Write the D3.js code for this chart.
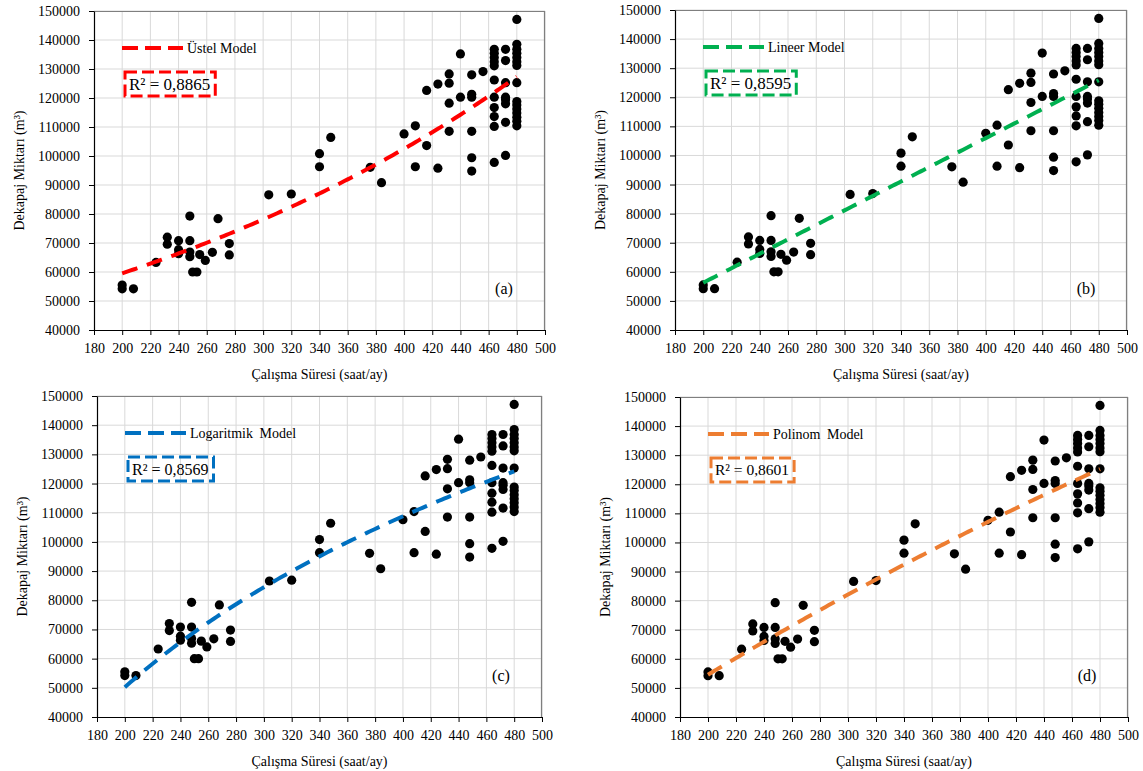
<!DOCTYPE html>
<html>
<head>
<meta charset="utf-8">
<script src="https://cdn.jsdelivr.net/npm/d3@7"></script>
<style>
  body { margin: 0; padding: 0; background: #fff; overflow: hidden; }
  text { font-family: "Liberation Serif", "Times New Roman", serif; fill: #000; }
</style>
</head>
<body>
<script>
// working hours per month (x) and stripped volume (y)
const hours = [
  200, 200, 208, 224, 232, 232, 240, 240, 240, 248, 248, 248, 248, 250, 253, 255, 259, 264, 268, 276, 276,
  304, 320, 340, 340, 348, 376, 384,
  400, 408, 408, 416, 416, 424, 424, 432, 432, 432, 432, 440, 440,
  448, 448, 448, 448, 448, 448, 456,
  464, 464, 464, 464, 464, 464, 464, 464, 464, 464, 464,
  472, 472, 472, 472, 472, 472, 472, 472,
  480, 480, 480, 480, 480, 480, 480, 480, 480, 480, 480, 480, 480, 480, 480
];
const volume = [
  55500, 54200, 54200, 63300, 72000, 69600, 70800, 67700, 66300, 79300, 70800, 66900, 65300, 60000, 60000, 66000, 64000, 66800, 78400, 69800, 65900,
  86600, 86900, 100800, 96300, 106400, 96100, 90800,
  107600, 110400, 96300, 122600, 103600, 124800, 95800, 128300, 125100, 118200, 108500, 135200, 120300,
  128000, 121300, 120300, 108500, 99400, 94800, 129100,
  136800, 135400, 134000, 132500, 131100, 126200, 120300, 116700, 113600, 110200, 97800,
  136800, 132900, 125300, 120300, 119400, 118000, 111600, 100200,
  147100, 138500, 136800, 135400, 134000, 132500, 131200, 125300, 118800, 117600, 116200, 114800, 113400, 112000, 110400
];

const xTicks = [180, 200, 220, 240, 260, 280, 300, 320, 340, 360, 380, 400, 420, 440, 460, 480, 500];
const yTicks = [40000, 50000, 60000, 70000, 80000, 90000, 100000, 110000, 120000, 130000, 140000, 150000];

const modelTypes = ["exp", "linear", "log", "poly"];
const modelNames = ["Üstel Model", "Lineer Model", "Logaritmik Model", "Polinom Model"];
const r2Labels = ["R² = 0,8865", "R² = 0,8595", "R² = 0,8569", "R² = 0,8601"];
const panelLetters = ["(a)", "(b)", "(c)", "(d)"];
const modelColors = ["#ff0000", "#00b050", "#0070c0", "#ed7d31"];

const xTitle = "Çalışma Süresi (saat/ay)";
const yTitle = "Dekapaj Miktarı (m³)";

// plot area placement of each panel
const panels = [
  {left: 94, top: 11, width: 451, height: 319, r2Size: 17},
  {left: 675, top: 10, width: 452, height: 320, r2Size: 17},
  {left: 97, top: 396, width: 445, height: 321, r2Size: 16},
  {left: 680, top: 397, width: 448, height: 320, r2Size: 15.5}
];

const width = 1143, height = 771;

// ---- least squares fits, like the spreadsheet trendlines
function fitLine(xs, ys) {
  const mx = d3.mean(xs), my = d3.mean(ys);
  let sxy = 0, sxx = 0;
  xs.forEach((x, i) => { sxy += (x - mx) * (ys[i] - my); sxx += (x - mx) * (x - mx); });
  const b = sxy / sxx;
  return [my - b * mx, b];
}

function fitPoly2(xs, ys) {
  const S = [0, 0, 0, 0, 0], T = [0, 0, 0];
  xs.forEach((x, i) => {
    for (let k = 0; k < 5; k++) S[k] += Math.pow(x, k);
    for (let k = 0; k < 3; k++) T[k] += Math.pow(x, k) * ys[i];
  });
  const M = [[S[0], S[1], S[2], T[0]], [S[1], S[2], S[3], T[1]], [S[2], S[3], S[4], T[2]]];
  for (let c = 0; c < 3; c++) {
    for (let r = c + 1; r < 3; r++) {
      const f = M[r][c] / M[c][c];
      for (let k = c; k < 4; k++) M[r][k] -= f * M[c][k];
    }
  }
  const coef = [0, 0, 0];
  for (let r = 2; r >= 0; r--) {
    let s = M[r][3];
    for (let k = r + 1; k < 3; k++) s -= M[r][k] * coef[k];
    coef[r] = s / M[r][r];
  }
  return coef;
}

const fits = {
  exp: () => { const [a, b] = fitLine(hours, volume.map(Math.log)); return x => Math.exp(a + b * x); },
  linear: () => { const [a, b] = fitLine(hours, volume); return x => a + b * x; },
  log: () => { const [a, b] = fitLine(hours.map(Math.log), volume); return x => a + b * Math.log(x); },
  poly: () => { const c = fitPoly2(hours, volume); return x => c[0] + c[1] * x + c[2] * x * x; }
};

const svg = d3.select("body").append("svg")
  .attr("width", width)
  .attr("height", height);

const xExtent = d3.extent(hours);
const points = hours.map((h, i) => ({x: h, y: volume[i]}));

panels.forEach((p, i) => {
  const x = d3.scaleLinear().domain([180, 500]).range([0, p.width]);
  const y = d3.scaleLinear().domain([40000, 150000]).range([p.height, 0]);
  const color = modelColors[i];

  const g = svg.append("g").attr("transform", `translate(${p.left},${p.top})`);

  // grid
  g.append("g").selectAll("line").data(xTicks.slice(1)).join("line")
    .attr("x1", d => x(d)).attr("x2", d => x(d))
    .attr("y1", 0).attr("y2", p.height)
    .attr("stroke", "#d9d9d9").attr("stroke-width", 1);
  g.append("g").selectAll("line").data(yTicks.slice(1)).join("line")
    .attr("x1", 0).attr("x2", p.width)
    .attr("y1", d => y(d)).attr("y2", d => y(d))
    .attr("stroke", "#d9d9d9").attr("stroke-width", 1);

  // frame top / right
  g.append("path")
    .attr("d", `M0,0.5H${p.width - 0.5}V${p.height}`)
    .attr("fill", "none").attr("stroke", "#7f7f7f").attr("stroke-width", 1.2);

  // axes
  const xAxis = g.append("g").attr("transform", `translate(0,${p.height})`)
    .call(d3.axisBottom(x).tickValues(xTicks).tickFormat(d3.format("d"))
      .tickSize(5).tickPadding(8).tickSizeOuter(0));
  const yAxis = g.append("g")
    .call(d3.axisLeft(y).tickValues(yTicks).tickFormat(d3.format("d"))
      .tickSize(5).tickPadding(9).tickSizeOuter(0));
  [xAxis, yAxis].forEach(a => {
    a.select(".domain").attr("stroke", "#000").attr("stroke-width", 1.2);
    a.selectAll(".tick line").attr("stroke", "#000");
    a.selectAll(".tick text")
      .style("font-family", '"Liberation Serif", "Times New Roman", serif')
      .style("font-size", "14px").attr("fill", "#000");
  });

  // axis titles
  g.append("text")
    .attr("x", p.width / 2).attr("y", p.height + 49)
    .attr("text-anchor", "middle").style("font-size", "14px")
    .text(xTitle);
  g.append("text")
    .attr("transform", `translate(-70,${p.height / 2}) rotate(-90)`)
    .attr("text-anchor", "middle").style("font-size", "14px")
    .text(yTitle);

  // points
  g.append("g").selectAll("circle").data(points).join("circle")
    .attr("cx", d => x(d.x)).attr("cy", d => y(d.y))
    .attr("r", 4.6).attr("fill", "#000");

  // trendline
  const f = fits[modelTypes[i]]();
  const trend = d3.range(xExtent[0], xExtent[1] + 0.1, 2).map(v => [v, f(v)]);
  g.append("path")
    .datum(trend)
    .attr("d", d3.line().x(d => x(d[0])).y(d => y(d[1])))
    .attr("fill", "none").attr("stroke", color)
    .attr("stroke-width", 4).attr("stroke-dasharray", "16,10");

  // legend
  g.append("line")
    .attr("x1", 28).attr("x2", 89).attr("y1", 37).attr("y2", 37)
    .attr("stroke", color).attr("stroke-width", 4).attr("stroke-dasharray", "16,7");
  g.append("text")
    .attr("x", 93).attr("y", 37).attr("dy", "0.35em")
    .style("font-size", "14px")
    .style("word-spacing", i >= 2 ? "3px" : "0px")
    .text(modelNames[i]);

  // R² box
  const r2 = g.append("text")
    .attr("x", 35).attr("y", 73).attr("dy", "0.35em")
    .style("font-size", p.r2Size + "px")
    .text(r2Labels[i]);
  const bb = r2.node().getBBox();
  g.append("rect")
    .attr("x", 31).attr("y", 61)
    .attr("width", bb.width + 9).attr("height", 24)
    .attr("fill", "none").attr("stroke", color)
    .attr("stroke-width", 3).attr("stroke-dasharray", "12,5");

  // panel letter
  g.append("text")
    .attr("x", p.width - 41).attr("y", p.height - 42).attr("dy", "0.35em")
    .attr("text-anchor", "middle").style("font-size", "16px")
    .text(panelLetters[i]);
});
</script>
</body>
</html>
